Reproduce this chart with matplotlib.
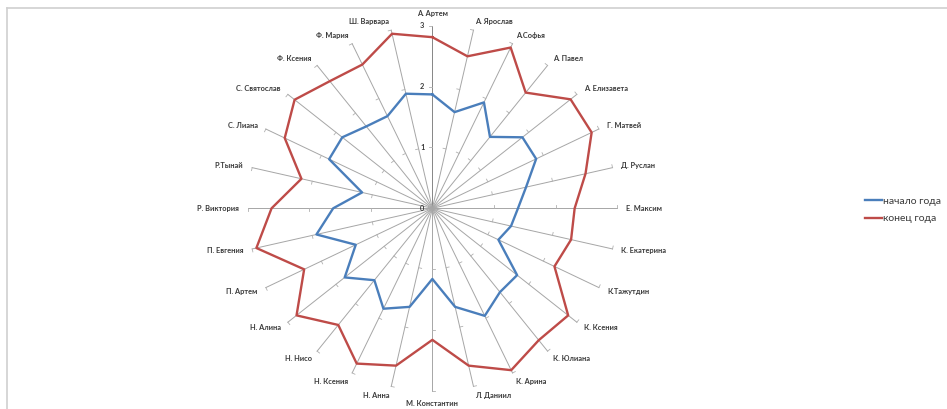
import numpy as np
import matplotlib
matplotlib.use("Agg")
import matplotlib.pyplot as plt
from matplotlib.lines import Line2D

plt.rcParams['font.family'] = ['Lato', 'DejaVu Sans']

categories = ["А. Артем", "А. Ярослав", "А.Софья", "А. Павел", "А. Елизавета",
              "Г. Матвей", "Д. Руслан", "Е. Максим", "К. Екатерина", "К.Тажутдин",
              "К. Ксения", "К. Юлиана", "К. Арина", "Л. Даниил", "М. Константин",
              "Н. Анна", "Н. Ксения", "Н. Нисо", "Н. Алина", "П. Артем",
              "П. Евгения", "Р. Виктория", "Р.Тынай", "С. Лиана", "С. Святослав",
              "Ф. Ксения", "Ф. Мария", "Ш. Варвара"]

start_of_year = [1.87, 1.62, 1.93, 1.50, 1.87, 1.87, 1.56, 1.39, 1.31, 1.19,
                 1.76, 1.76, 1.96, 1.66, 1.16, 1.66, 1.83, 1.51, 1.82, 1.38,
                 1.93, 1.61, 1.17, 1.86, 1.87, 1.72, 1.68, 1.93]

end_of_year = [2.81, 2.56, 2.93, 2.43, 2.87, 2.87, 2.55, 2.31, 2.31, 2.20,
               2.82, 2.77, 2.95, 2.65, 2.16, 2.65, 2.83, 2.45, 2.82, 2.31,
               2.93, 2.61, 2.18, 2.66, 2.86, 2.67, 2.62, 2.94]

series_names = ["начало года", "конец года"]
r_ticks = [0, 1, 2, 3]

BLUE = "#4a7ebb"
RED = "#be4b48"
TXT = "#3a3a3a"

fig = plt.figure(figsize=(9.47, 4.09), dpi=100)
ax = fig.add_axes([0.2614, 0.0440, 0.3903, 0.8934], projection='polar')
ax.set_aspect('auto')
ax.set_theta_zero_location('N')
ax.set_theta_direction(-1)
ax.set_ylim(0, 3)
ax.axis('off')

n = len(categories)
theta = np.arange(n) * 2 * np.pi / n
rmax = r_ticks[-1]

# spokes
for i, t in enumerate(theta):
    col = "#868686" if i == 0 else "#a6a6a6"
    ax.plot([t, t], [0, rmax], color=col, lw=0.7, zorder=1, clip_on=False)
    # tick marks on counter-clockwise side
    h = 0.05
    for r in r_ticks[1:]:
        ax.plot([t, t - np.arctan(h / r)], [r, np.hypot(r, h)], color="#b0b0b0",
                lw=0.6, zorder=1, clip_on=False)

# series
tt = np.append(theta, theta[0])
l1, = ax.plot(tt, start_of_year + start_of_year[:1], color=BLUE, lw=1.7, zorder=3, clip_on=False)
l2, = ax.plot(tt, end_of_year + end_of_year[:1], color=RED, lw=1.7, zorder=3, clip_on=False)

# category labels
for t, lab in zip(theta, categories):
    s, c = np.sin(t), np.cos(t)
    off = 9
    if s > 0.01:
        ha = 'left'
    elif s < -0.01:
        ha = 'right'
    else:
        ha = 'center'
    if abs(s) < 0.01:
        va = 'bottom' if c > 0 else 'top'
    else:
        va = 'center'
    ax.annotate(lab, xy=(t, rmax), xytext=(off * s, off * c), textcoords='offset pixels',
                ha=ha, va=va, fontsize=5.3, fontweight='bold', color=TXT,
                annotation_clip=False)

# radial value labels
for r in r_ticks:
    ax.annotate(str(r), xy=(0, r), xytext=(-8, 0), textcoords='offset pixels',
                ha='right', va='center', fontsize=5.3, fontweight='bold', color=TXT,
                annotation_clip=False)

# legend
fig.legend([l1, l2], series_names, loc='center left',
           bbox_to_anchor=(860 / 947, 1 - 210 / 409), frameon=False, fontsize=7.5,
           handlelength=1.6, handletextpad=0.1, labelspacing=0.75, borderpad=0,
           labelcolor=TXT)

# chart area border (partially visible)
fig.add_artist(Line2D([6.5 / 947, 6.5 / 947], [0, 1 - 8 / 409], transform=fig.transFigure,
                      color="#d0d0d0", lw=1.2))
fig.add_artist(Line2D([6.5 / 947, 1], [1 - 8 / 409, 1 - 8 / 409], transform=fig.transFigure,
                      color="#d0d0d0", lw=1.2))

fig.savefig("out.png", dpi=100)
